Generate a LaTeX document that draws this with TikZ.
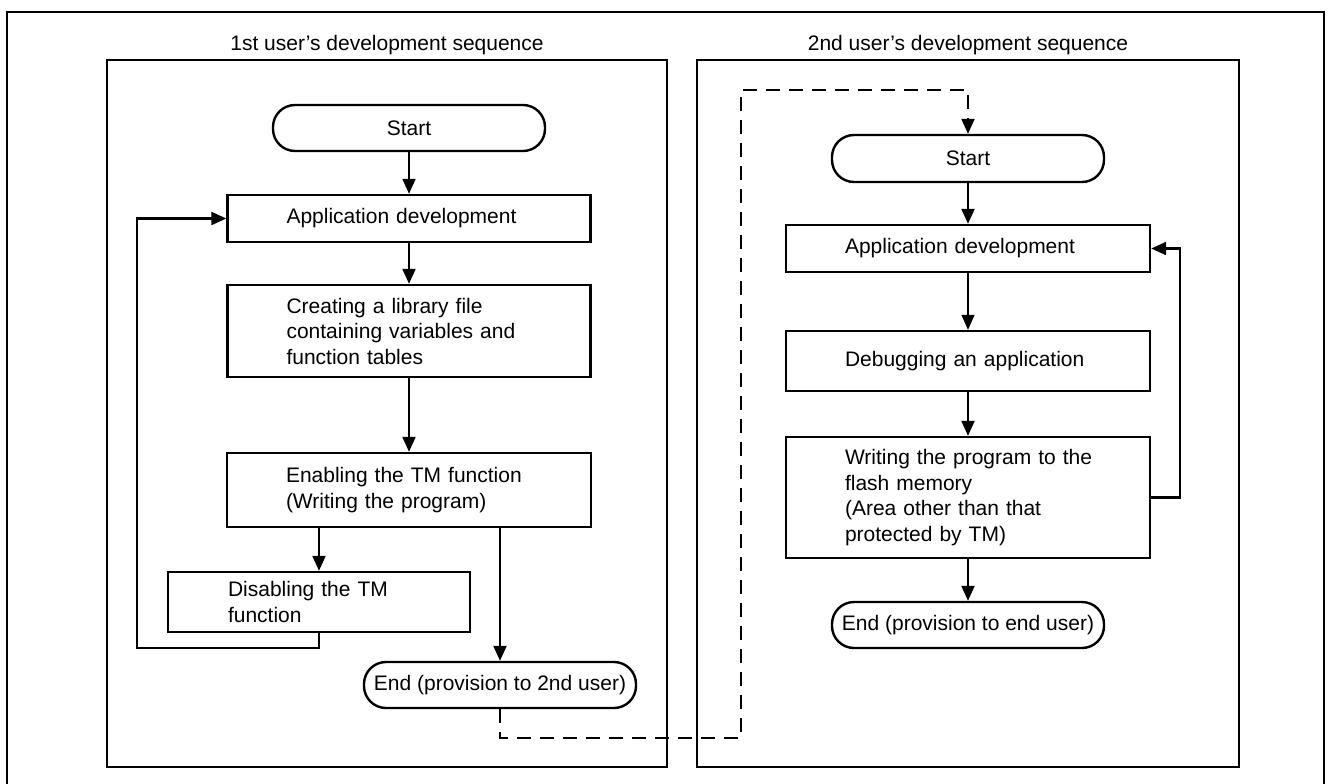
\documentclass[tikz,border=0pt]{standalone}
\usepackage{fontspec}
\setmainfont{Liberation Sans}
\usetikzlibrary{arrows.meta,calc}
\begin{document}
\begin{tikzpicture}[x=1pt,y=-1pt,
  every node/.style={font=\fontsize{21pt}{25.5pt}\selectfont},
  frame/.style={draw=black,line width=2.4pt},
  procbox/.style={draw=black,line width=2.4pt,rectangle,inner xsep=59pt,inner ysep=0pt,align=left},
  termbox/.style={draw=black,line width=2.4pt,rectangle,rounded corners=22pt,inner sep=0pt,align=center},
  arr/.style={line width=2.2pt,-{Triangle[width=13pt,length=15pt]}},
  thinarr/.style={line width=1.1pt,-{Triangle[width=13pt,length=15pt]}},
  dasharr/.style={line width=2.2pt,dash pattern=on 14pt off 9pt,-{Triangle[width=13pt,length=15pt]}}
]
\useasboundingbox (0,0) rectangle (1328,784);
\fill[white] (0,0) rectangle (1328,784);
% outer frame (bottom edge lies outside the picture)
\draw[line width=2.6pt] (7,784) -- (7,12) -- (1324,12) -- (1324,784);
% panels
\draw[frame] (107,60) rectangle (667,767);
\draw[frame] (697,60) rectangle (1239,767);
\node (t1) at (387,45) {1st user’s development sequence};
\node (t2) at (968,45) {2nd user’s development sequence};
% left flow
\node[termbox,minimum width=272pt,minimum height=46pt] (s1) at (409,128) {Start};
\node[procbox,text width=245pt,minimum height=47pt] (a1) at (409,218.5) {Application development};
\node[procbox,text width=245pt,minimum height=92pt] (c1) at (409,331) {Creating a library file\\containing variables and\\function tables};
\node[procbox,text width=246pt,minimum height=74pt] (e1) at (409,490) {Enabling the TM function\\(Writing the program)};
\node[procbox,inner xsep=60pt,text width=182pt,minimum height=60pt] (d1) at (319,602) {Disabling the TM\\function};
\node[termbox,minimum width=272pt,minimum height=46pt] (n1) at (500,685) {End (provision to 2nd user)};
% right flow
\node[termbox,minimum width=272pt,minimum height=47pt] (s2) at (968,158.5) {Start};
\node[procbox,text width=246pt,minimum height=47pt] (a2) at (968,248.5) {Application development};
\node[procbox,text width=246pt,minimum height=60pt] (g2) at (968,361) {Debugging an application};
\node[procbox,text width=246pt,minimum height=121pt] (w2) at (968,497.5) {\mbox{Writing the program to the}\\flash memory\\(Area other than that\\protected by TM)};
\node[termbox,minimum width=272pt,minimum height=46pt] (n2) at (968,625) {End (provision to end user)};
% left connectors
\draw[arr] (s1) -- (a1);
\draw[arr] (a1) -- (c1);
\draw[arr] (c1) -- (e1);
\draw[arr] (e1.south -| d1.north) -- (d1.north);
\draw[arr] (e1.south -| n1.north) -- (n1.north);
\coordinate (l1) at (137,648);
\draw[arr] (d1.south) |- (l1) |- (a1.west);
% right connectors
\draw[arr] (s2) -- (a2);
\draw[thinarr] (a2) -- (g2);
\draw[arr] (g2) -- (w2);
\draw[arr] (w2) -- (n2);
\coordinate (r1) at (1180,497.5);
\draw[arr] (w2.east) -- (r1) |- (a2.east);
% dashed hand-over
\coordinate (dA) at (500,738);
\coordinate (dB) at (741,90);
\draw[dasharr] (n1.south) -- (dA) -| (dB) -| (s2.north);
\end{tikzpicture}
\end{document}
